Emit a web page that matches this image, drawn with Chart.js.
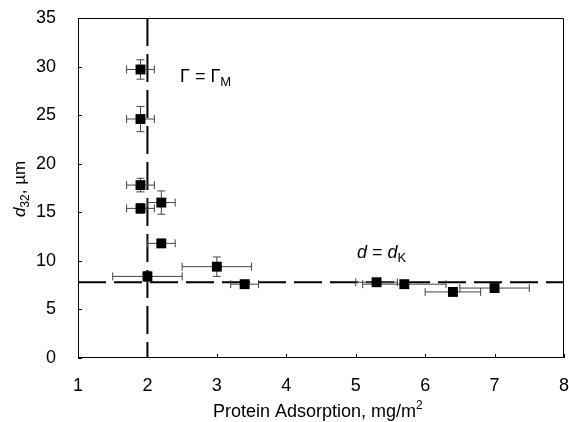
<!DOCTYPE html>
<html>
<head>
<meta charset="utf-8">
<script src="https://cdn.jsdelivr.net/npm/chart.js@4.4.1/dist/chart.umd.min.js"></script>
<style>
  html, body { margin: 0; padding: 0; background: #fff; overflow: hidden; }
  #wrap { width: 569px; height: 422px; overflow: hidden; }
</style>
</head>
<body>
<div id="wrap"><canvas id="adsChart" width="571" height="422"></canvas></div>
<script>
// protein adsorption (mg/m2) vs d32 (um)
const adsorption = [1.9, 1.9, 1.9, 1.9, 2.2, 2.2, 2.0, 3.0, 3.4, 5.3, 5.7, 6.4, 7.0];
const d32 = [29.7, 24.6, 17.8, 15.4, 16.0, 11.8, 8.4, 9.4, 7.6, 7.8, 7.6, 6.8, 7.2];
const adsErr = [0.2, 0.2, 0.2, 0.2, 0.2, 0.2, 0.5, 0.5, 0.2, 0.3, 0.6, 0.4, 0.5];
const d32Err = [1.0, 1.3, 0.7, 0.5, 1.2, 0.3, 0.5, 1.0, 0.3, 0.3, 0.3, 0.3, 0.3];
const gammaM = 2.0;
const dK = 7.8;
const xTicks = [1, 2, 3, 4, 5, 6, 7, 8];
const yTicks = [0, 5, 10, 15, 20, 25, 30, 35];

const FONT = "'Liberation Sans', Arial, sans-serif";

const overlay = {
    id: "overlay",
    beforeDatasetsDraw(chart) {
        const { ctx, chartArea: a, scales: { x, y } } = chart;
        ctx.save();
        // frame
        ctx.strokeStyle = "#000";
        ctx.lineWidth = 1;
        ctx.beginPath();
        ctx.moveTo(a.left + 0.5, a.top + 0.5);
        ctx.lineTo(a.right - 0.5, a.top + 0.5);
        ctx.lineTo(a.right - 0.5, a.bottom - 0.5);
        ctx.lineTo(a.left + 0.5, a.bottom - 0.5);
        ctx.closePath();
        ctx.stroke();
        // inward ticks
        xTicks.forEach(v => {
            const px = Math.round(x.getPixelForValue(v)) + 0.5;
            ctx.beginPath(); ctx.moveTo(px, a.bottom); ctx.lineTo(px, a.bottom - 4); ctx.stroke();
        });
        yTicks.forEach(v => {
            const py = Math.round(y.getPixelForValue(v)) + 0.5;
            ctx.beginPath(); ctx.moveTo(a.left, py); ctx.lineTo(a.left + 4, py); ctx.stroke();
        });
        // reference lines
        ctx.lineWidth = 2;
        ctx.setLineDash([28, 8]);
        const gx = x.getPixelForValue(gammaM);
        ctx.beginPath(); ctx.moveTo(gx, a.top); ctx.lineTo(gx, a.bottom); ctx.stroke();
        const dy = y.getPixelForValue(dK);
        ctx.beginPath(); ctx.moveTo(a.left, dy); ctx.lineTo(a.right, dy); ctx.stroke();
        ctx.setLineDash([]);
        // error bars
        ctx.strokeStyle = "#444";
        ctx.lineWidth = 1;
        adsorption.forEach((xv, i) => {
            const px = x.getPixelForValue(xv), py = y.getPixelForValue(d32[i]);
            const x0 = x.getPixelForValue(xv - adsErr[i]), x1 = x.getPixelForValue(xv + adsErr[i]);
            const y0 = y.getPixelForValue(d32[i] - d32Err[i]), y1 = y.getPixelForValue(d32[i] + d32Err[i]);
            ctx.beginPath();
            ctx.moveTo(x0, py); ctx.lineTo(x1, py);
            ctx.moveTo(x0, py - 4); ctx.lineTo(x0, py + 4);
            ctx.moveTo(x1, py - 4); ctx.lineTo(x1, py + 4);
            ctx.moveTo(px, y0); ctx.lineTo(px, y1);
            ctx.moveTo(px - 4, y0); ctx.lineTo(px + 4, y0);
            ctx.moveTo(px - 4, y1); ctx.lineTo(px + 4, y1);
            ctx.stroke();
        });
        ctx.restore();
    },
    afterDraw(chart) {
        const { ctx } = chart;
        ctx.save();
        ctx.fillStyle = "#000";
        ctx.textBaseline = "alphabetic";
        // annotations
        let tx = 180;
        ctx.font = `18px ${FONT}`;
        ctx.fillText("\u0393 = \u0393", tx, 82);
        tx += ctx.measureText("\u0393 = \u0393").width;
        ctx.font = `13px ${FONT}`;
        ctx.fillText("M", tx, 86);

        tx = 357;
        ctx.font = `italic 18px ${FONT}`;
        ctx.fillText("d", tx, 258);
        tx += ctx.measureText("d").width;
        ctx.font = `18px ${FONT}`;
        ctx.fillText(" = ", tx, 258);
        tx += ctx.measureText(" = ").width;
        ctx.font = `italic 18px ${FONT}`;
        ctx.fillText("d", tx, 258);
        tx += ctx.measureText("d").width;
        ctx.font = `13px ${FONT}`;
        ctx.fillText("K", tx, 262);

        // x title
        ctx.font = `18px ${FONT}`;
        const main = "Protein Adsorption, mg/m";
        const w = ctx.measureText(main).width;
        ctx.fillText(main, 213, 417);
        ctx.font = `12px ${FONT}`;
        ctx.fillText("2", 213 + w, 409);

        // y title
        ctx.translate(25, 189);
        ctx.rotate(-Math.PI / 2);
        const parts = [
            ["d", `italic 17px ${FONT}`, 0],
            ["32", `12px ${FONT}`, 4],
            [", \u00b5m", `17px ${FONT}`, 0],
        ];
        let total = 0;
        parts.forEach(p => { ctx.font = p[1]; total += ctx.measureText(p[0]).width; });
        let ox = -total / 2;
        parts.forEach(p => { ctx.font = p[1]; ctx.fillText(p[0], ox, p[2]); ox += ctx.measureText(p[0]).width; });
        ctx.restore();
    },
};

new Chart(document.getElementById("adsChart"), {
    type: "scatter",
    data: {
        datasets: [{
            data: adsorption.map((v, i) => ({ x: v, y: d32[i] })),
            pointStyle: "rect",
            pointRadius: 7,
            backgroundColor: "#000",
            borderColor: "#000",
            borderWidth: 0,
        }],
    },
    options: {
        responsive: false,
        animation: false,
        layout: { padding: { top: 18, right: 0, left: 0, bottom: 0 } },
        plugins: { legend: { display: false }, tooltip: { enabled: false } },
        scales: {
            x: {
                type: "linear", min: 1, max: 8,
                afterBuildTicks: s => { s.ticks = xTicks.map(v => ({ value: v })); },
                afterFit: s => { s.height = 64; s.paddingLeft = 0; s.paddingRight = 0; },
                grid: { display: false },
                border: { display: false },
                ticks: { color: "#000", padding: 9, font: { family: FONT, size: 18 } },
            },
            y: {
                type: "linear", min: 0, max: 35,
                afterBuildTicks: s => { s.ticks = yTicks.map(v => ({ value: v })); },
                afterFit: s => { s.width = 78; s.paddingTop = 0; s.paddingBottom = 0; },
                grid: { display: false },
                border: { display: false },
                ticks: { color: "#000", padding: 14, font: { family: FONT, size: 18 } },
            },
        },
    },
    plugins: [overlay],
});
</script>
</body>
</html>
